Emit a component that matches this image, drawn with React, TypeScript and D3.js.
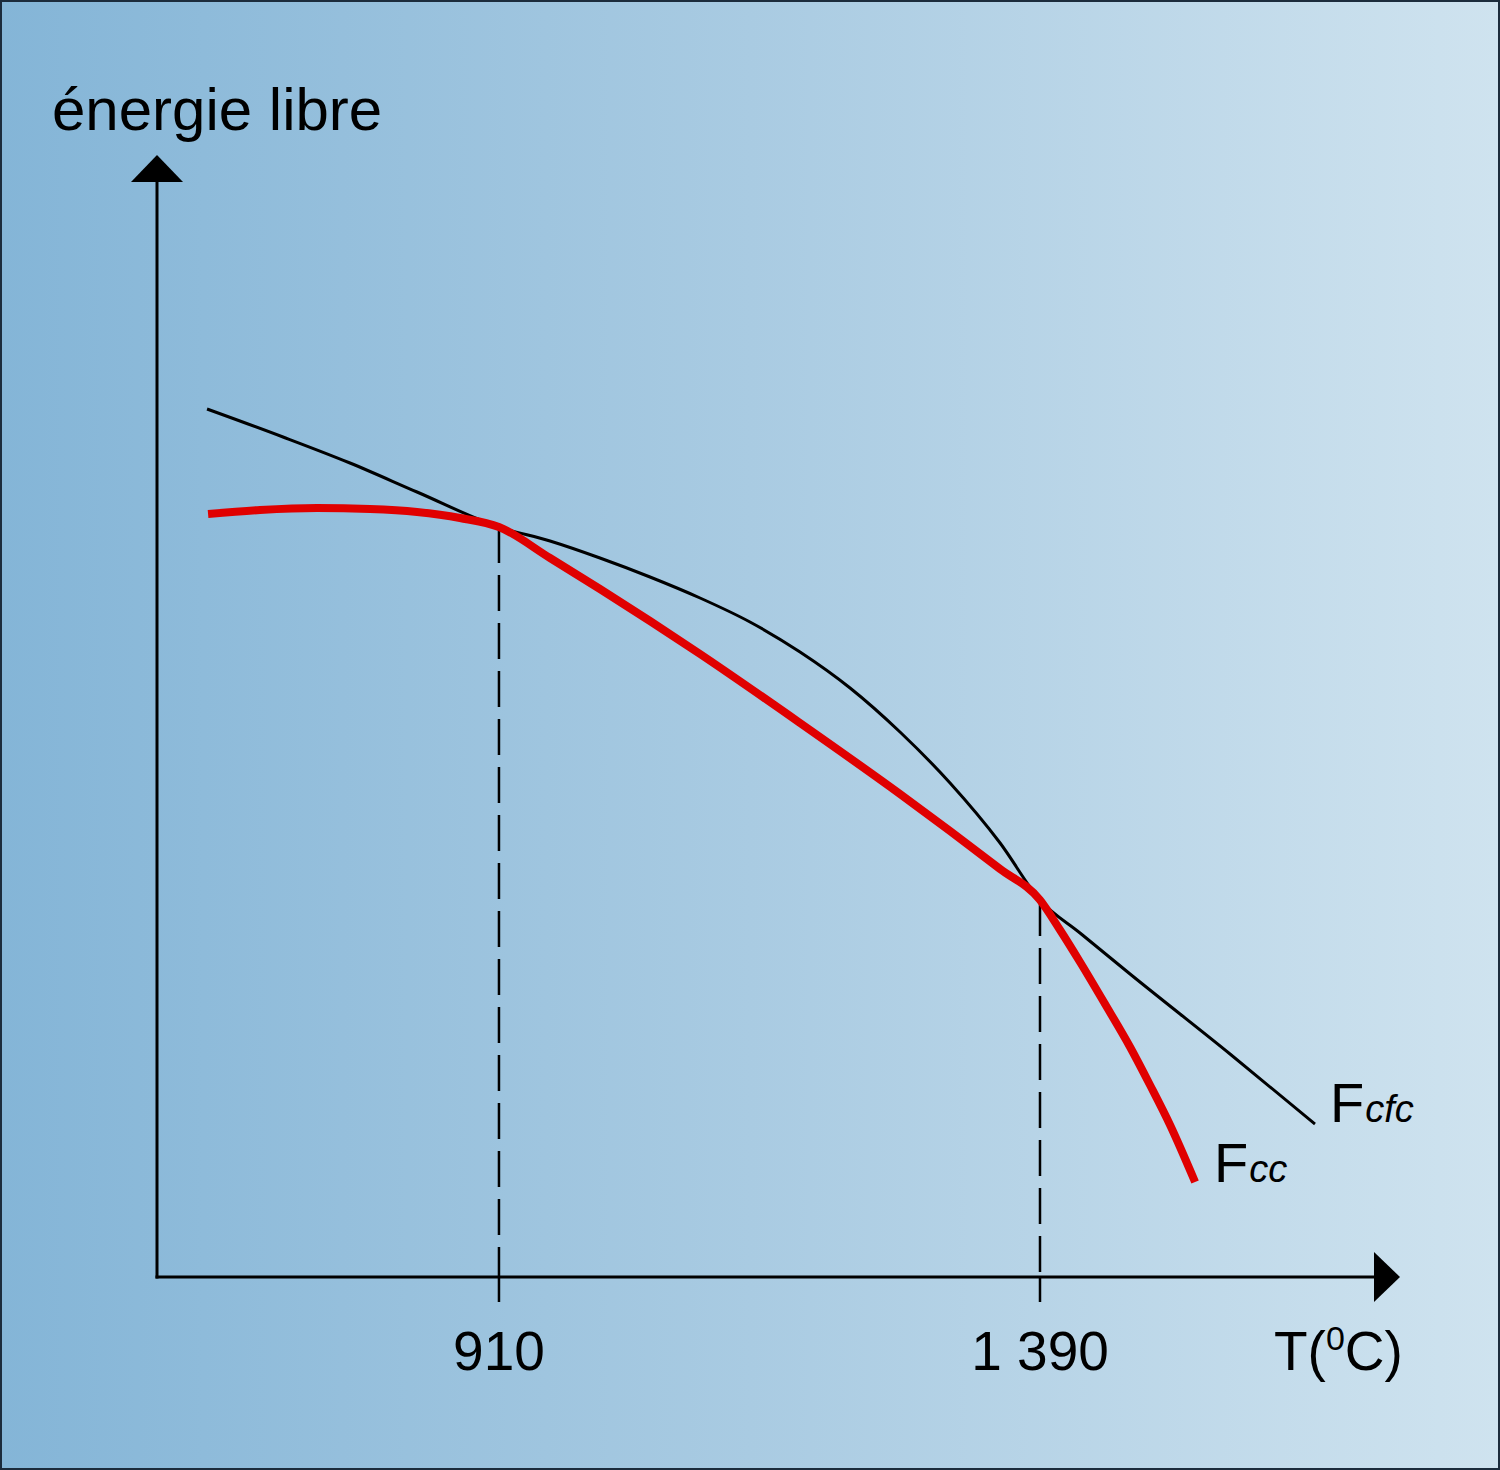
import React from "react";
import * as d3 from "d3";

// Temperature (°C) and free energy (arbitrary units)
const T_CFC = [651, 718.4, 777.8, 837.3, 910, 955.3, 999.6, 1044, 1088.4, 1132.7, 1177.1, 1221.5, 1265.8, 1310.2, 1354.6, 1390, 1425.5, 1469.9, 1558.6, 1634];
const F_CFC = [86.8, 84.0, 81.4, 78.5, 75.0, 73.6, 71.9, 70.0, 67.9, 65.5, 62.5, 58.9, 54.5, 49.4, 43.4, 37.7, 34.4, 30.3, 22.3, 15.3];
const T_CC = [651.9, 698, 748.6, 795.6, 837.3, 875.4, 910, 955.3, 999.6, 1088.4, 1177.1, 1265.8, 1354.6, 1390, 1407.8, 1425.5, 1447.7, 1469.9, 1487.6, 1505.4, 1527.6];
const F_CC = [76.3, 76.7, 76.9, 76.8, 76.5, 75.9, 75.0, 71.9, 68.8, 62.3, 55.4, 48.3, 40.8, 37.7, 34.7, 31.5, 27.3, 23.0, 19.2, 15.2, 9.5];
const TICK_VALUES = [910, 1390];
const TICK_LABELS = ["910", "1 390"];

export default function App() {
  const W = 1500, H = 1470;
  const x = d3.scaleLinear().domain([606.6, 1709.4]).range([157, 1400]);
  const y = d3.scaleLinear().domain([0, 112.2]).range([1277, 155]);
  const line = d3
    .line<[number, number]>()
    .x((d) => x(d[0]))
    .y((d) => y(d[1]))
    .curve(d3.curveMonotoneX);
  const cfc = T_CFC.map((t, i) => [t, F_CFC[i]] as [number, number]);
  const cc = T_CC.map((t, i) => [t, F_CC[i]] as [number, number]);
  const valueAt = (arr: [number, number][], t: number) => {
    const i = arr.findIndex((d) => d[0] === t);
    return i >= 0 ? arr[i][1] : 0;
  };
  const x0 = x(606.6), y0 = y(0);
  const xEnd = x(1709.4), yTop = y(112.2);
  const font = "'Liberation Sans', Arial, Helvetica, sans-serif";

  return (
    <svg
      width={W}
      height={H}
      viewBox={`0 0 ${W} ${H}`}
      style={{ position: "absolute", left: 0, top: 0, display: "block" }}
      fontFamily={font}
    >
      <defs>
        <linearGradient id="bg" x1="0" y1="0" x2="1" y2="0">
          <stop offset="0" stopColor="#84b5d7" />
          <stop offset="0.5" stopColor="#a9cbe2" />
          <stop offset="1" stopColor="#cfe3ef" />
        </linearGradient>
      </defs>
      <rect x={0} y={0} width={W} height={H} fill="url(#bg)" />
      <rect x={1} y={1} width={W - 2} height={H - 2} fill="none" stroke="#1c2c3c" strokeWidth={2} />

      {/* dashed guides */}
      {TICK_VALUES.map((t) => (
        <line
          key={"d" + t}
          x1={x(t)}
          x2={x(t)}
          y1={y(valueAt(cfc, t))}
          y2={y0}
          stroke="#000"
          strokeWidth={2.5}
          strokeDasharray="36 12"
        />
      ))}
      {/* tick marks */}
      {TICK_VALUES.map((t) => (
        <line key={"t" + t} x1={x(t)} x2={x(t)} y1={y0} y2={y0 + 25} stroke="#000" strokeWidth={2.5} />
      ))}

      {/* axes */}
      <line x1={x0} x2={x0} y1={y0 + 1.5} y2={yTop + 20} stroke="#000" strokeWidth={3} />
      <path d={`M${x0},${yTop} L${x0 - 26},${yTop + 27} L${x0 + 26},${yTop + 27} Z`} fill="#000" />
      <line x1={x0 - 1.5} x2={xEnd - 20} y1={y0} y2={y0} stroke="#000" strokeWidth={3} />
      <path d={`M${xEnd},${y0} L${xEnd - 26},${y0 - 25} L${xEnd - 26},${y0 + 25} Z`} fill="#000" />

      {/* curves */}
      <path d={line(cfc) || ""} fill="none" stroke="#000" strokeWidth={3} strokeLinecap="butt" />
      <path d={line(cc) || ""} fill="none" stroke="#e00000" strokeWidth={8} strokeLinecap="butt" />

      {/* labels */}
      <text x={52} y={130} fontSize={60} fill="#000">énergie libre</text>
      {TICK_VALUES.map((t, i) => (
        <text key={"l" + t} x={x(t)} y={1370} fontSize={55} textAnchor="middle" fill="#000">
          {TICK_LABELS[i]}
        </text>
      ))}
      <text x={1274} y={1370} fontSize={55} fill="#000">
        T(<tspan fontSize={34} dy={-20}>0</tspan>
        <tspan dy={20}>C)</tspan>
      </text>
      <text x={1330} y={1122} fontSize={56} fill="#000">
        F<tspan fontSize={38} fontStyle="italic" dx={1}>cfc</tspan>
      </text>
      <text x={1214} y={1182} fontSize={56} fill="#000">
        F<tspan fontSize={38} fontStyle="italic" dx={1}>cc</tspan>
      </text>
    </svg>
  );
}
